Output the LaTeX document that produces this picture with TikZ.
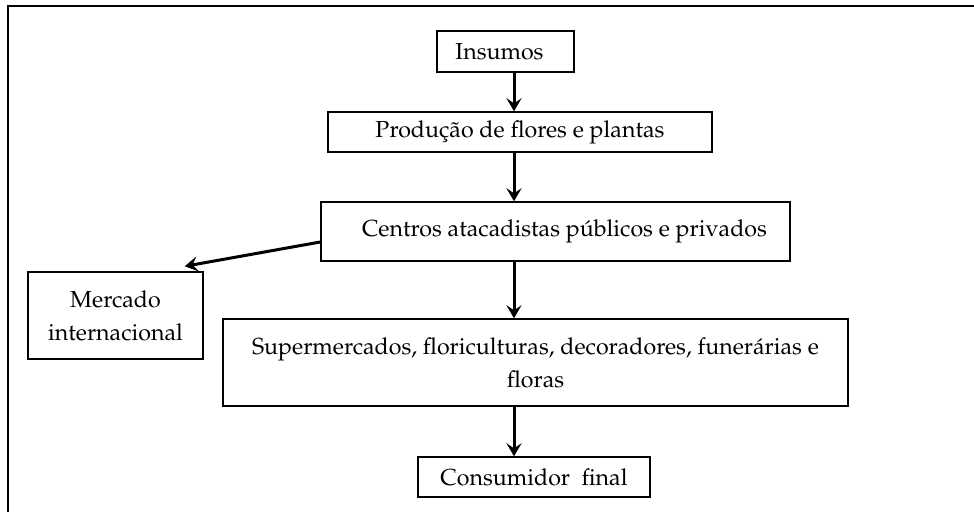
\documentclass[tikz,border=0pt]{standalone}
\usepackage[T1]{fontenc}
\usepackage{mathpazo}
\usetikzlibrary{arrows.meta,calc}
\begin{document}
\begin{tikzpicture}[x=0.5pt,y=-0.5pt,
  font=\fontsize{11.6}{16.5}\selectfont,
  box/.style={draw=black,line width=0.7pt,rectangle,inner sep=0pt,align=center},
  arr/.style={line width=1.5pt,-{Stealth[length=6.5pt,width=7.5pt,inset=2.5pt]}}]
\useasboundingbox (0,0) rectangle (974,512);
\draw[line width=1pt] (974,6) -- (8,6) -- (8,512);
\node[box,minimum width=68.5pt,minimum height=20.5pt] (ins) at (505.5,51.5) {Insumos\hspace{6pt}};
\node[box,minimum width=192pt,minimum height=20pt] (prod) at (520,132) {Produ\c{c}\~ao de flores e plantas};
\node[box,minimum width=234.5pt,minimum height=29.5pt] (cen) at (555.5,231.5) {\hspace{9pt}Centros atacadistas p\'ublicos e privados};
\node[box,minimum width=87.5pt,minimum height=43.5pt] (mer) at (115.5,315.5) {Mercado\\internacional};
\node[box,minimum width=312.5pt,minimum height=43.5pt] (sup) at (535.5,362.5) {Supermercados, floriculturas, decoradores, funer\'arias e\hspace{8pt}\\floras};
\node[box,minimum width=116pt,minimum height=20pt] (con) at (534,477) {Consumidor\ \ final};
\coordinate (ax) at (514,0);
\draw[arr] (ins.south -| ax) -- (prod.north -| ax);
\draw[arr] (prod.south -| ax) -- (cen.north -| ax);
\draw[arr] (cen.south -| ax) -- (sup.north -| ax);
\draw[arr] (sup.south -| ax) -- (con.north -| ax);
\draw[arr] ($(cen.west)+(0,10.5)$) -- ($(mer.north east)+(-19,-5)$);
\end{tikzpicture}
\end{document}
